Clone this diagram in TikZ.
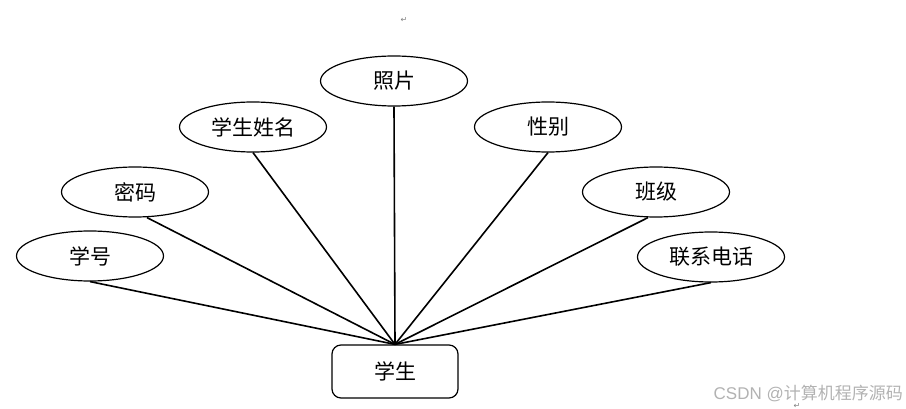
\documentclass[tikz,border=0pt]{standalone}
\usepackage{fontspec}
\newfontfamily\cjk{Noto Sans CJK SC}
\newfontfamily\dv{DejaVu Sans}
\newfontfamily\lsans{Liberation Sans}
\usetikzlibrary{shapes.geometric}
\begin{document}
\begin{tikzpicture}[x=1pt,y=-1pt,
  attr/.style={ellipse,draw,line width=1.2pt,minimum width=147pt,minimum height=50pt,inner sep=0pt,font=\cjk\fontsize{21}{21}\selectfont},
  ent/.style={rectangle,rounded corners=9pt,draw,line width=1.2pt,minimum width=126pt,minimum height=53pt,font=\cjk\fontsize{21}{21}\selectfont},
  link/.style={line width=1.6pt},
  retmark/.style={text=gray,font=\dv\fontsize{8}{8}\selectfont,inner sep=0pt}]
\useasboundingbox (0,0) rectangle (906,409);
\node[attr] (zp) at (394,81) {照片};
\node[attr] (xm) at (253,127) {学生姓名};
\node[attr] (xb) at (548,127) {性别};
\node[attr] (mm) at (135,192) {密码};
\node[attr] (bj) at (656,192) {班级};
\node[attr] (xh) at (90,256) {学号};
\node[attr] (dh) at (711,257) {联系电话};
\node[ent] (xs) at (395,371.5) {学生};
\foreach \a/\dx in {zp/0,xm/0,xb/0,mm/12,bj/-8,xh/0,dh/0}
  \draw[link] ([xshift=\dx pt]\a.south) -- (xs.north);
\node[retmark] (r1) at (404,20) {↵};
\node[retmark] (r2) at (797,406) {↵};
\node[text=black!30,font=\lsans\fontsize{17}{17}\selectfont,inner sep=0pt,anchor=east] (wm) at (903,393) {CSDN @{\cjk 计算机程序源码}};
\end{tikzpicture}
\end{document}
